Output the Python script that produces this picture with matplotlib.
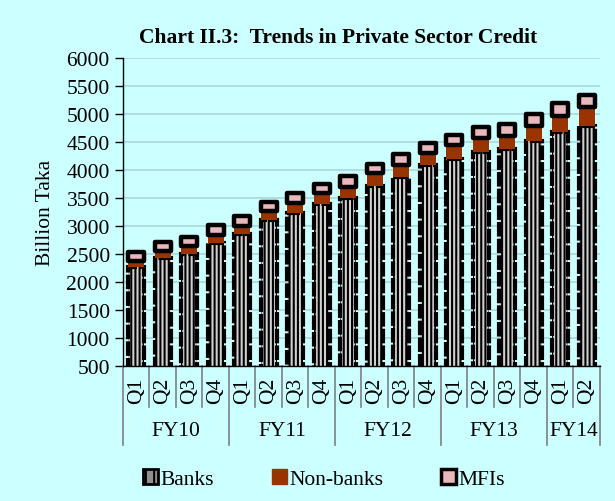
import matplotlib
matplotlib.use("Agg")
import matplotlib.pyplot as plt
from matplotlib.patches import Patch
import numpy as np

plt.rcParams["font.family"] = ["Liberation Serif", "DejaVu Serif"]
plt.rcParams["hatch.linewidth"] = 1.5

# values (billion Taka)
quarters = ["Q1", "Q2", "Q3", "Q4"] * 4 + ["Q1", "Q2"]
years = ["FY10", "FY11", "FY12", "FY13", "FY14"]
year_len = [4, 4, 4, 4, 2]
banks = [2262, 2423, 2500, 2696, 2857, 3107, 3232, 3393, 3500,
         3720, 3870, 4089, 4196, 4327, 4375, 4523, 4673, 4791]
non_banks = [117, 134, 134, 140, 147, 164, 175, 193, 200,
             223, 223, 211, 254, 241, 236, 254, 295, 325]
mfis = [153, 154, 166, 185, 171, 166, 186, 168, 189,
        168, 184, 186, 179, 196, 214, 227, 225, 232]

BG = "#CCFFFF"
BROWN = "#993300"
PINK = "#E8B8BC"
FS = 15.5

fig = plt.figure(figsize=(6.15, 5.02), dpi=100, facecolor=BG)
ax = fig.add_axes([0.2, 0.2689, 0.7756, 0.6136], facecolor=BG)

x = np.arange(len(banks))
b = np.array(banks)
nb = np.array(non_banks)
w = 0.62

ax.bar(x, b, w, color="#D0D0D0", edgecolor="black", hatch="||||",
       linewidth=3, linestyle=(0, (3.5, 0.5)), zorder=2)
ax.bar(x, nb, w, bottom=b, color=BROWN, linewidth=0, zorder=3)
ax.bar(x, mfis, w, bottom=b + nb, color=PINK, edgecolor="black",
       linewidth=3.2, joinstyle="round", zorder=4)

ax.set_ylim(500, 6000)
ax.set_yticks(np.arange(500, 6001, 500))
ax.set_xlim(-0.5, len(banks) - 0.5)
ax.set_xticks([])
ax.yaxis.grid(True, color="#A8D8DC", linewidth=1.2)
ax.set_axisbelow(True)
for s in ["top", "right"]:
    ax.spines[s].set_visible(False)
ax.spines["left"].set_linewidth(1)
ax.spines["bottom"].set_linewidth(1)
ax.tick_params(axis="y", labelsize=FS, length=6, width=1, direction="out")
ax.set_ylabel("Billion Taka", fontsize=FS, labelpad=8)

# two-level category axis
tr = ax.get_xaxis_transform()
for i, q in enumerate(quarters):
    ax.text(i, -0.035, q, rotation=90, ha="center", va="top",
            fontsize=FS, transform=tr)
start = 0
bounds = [0]
for yr, n in zip(years, year_len):
    ax.text(start + (n - 1) / 2, -0.21, yr, ha="center", va="center",
            fontsize=FS, transform=tr)
    start += n
    bounds.append(start)
for k in range(len(banks) + 1):
    depth = -0.255 if k in bounds else -0.133
    ax.plot([k - 0.5, k - 0.5], [0, depth], color="#808080", lw=1.2,
            transform=tr, clip_on=False)

fig.text(0.55, 0.924, "Chart II.3:  Trends in Private Sector Credit",
         ha="center", va="center", fontsize=FS, fontweight="bold")

handles = [
    Patch(facecolor="#909090", edgecolor="black", hatch="||", linewidth=2),
    Patch(facecolor=BROWN, edgecolor=BROWN),
    Patch(facecolor=PINK, edgecolor="black", linewidth=2.5),
]
fig.legend(handles, ["Banks", "Non-banks", "MFIs"], loc="center",
           bbox_to_anchor=(0.527, 0.044), ncol=3, frameon=False,
           fontsize=FS, handlelength=0.7, handleheight=0.7,
           handletextpad=0.1, columnspacing=2.7)

fig.savefig("out.png", dpi=100, facecolor=BG)
